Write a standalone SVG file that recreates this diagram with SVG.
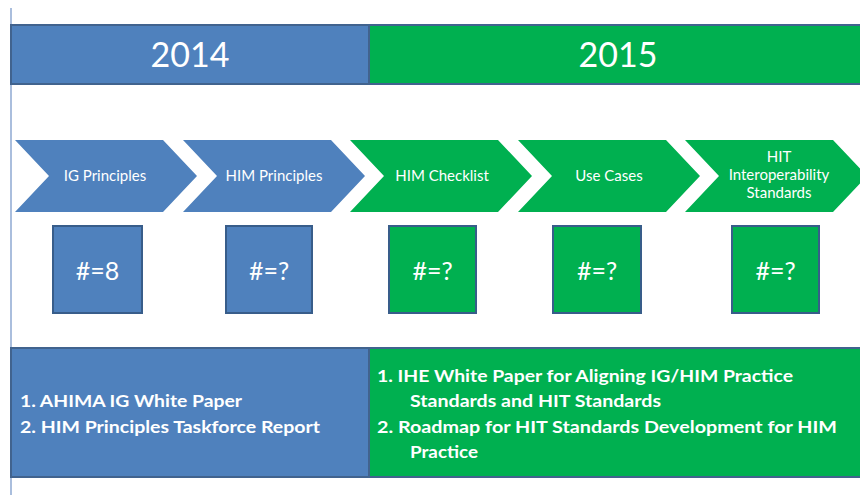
<svg xmlns="http://www.w3.org/2000/svg" width="860" height="495" viewBox="0 0 860 495">
<style>
.blue{fill:#4F81BD}
.green{fill:#00B050}
.bar{stroke:#41638E;stroke-width:2}
.box{stroke:#385D8A;stroke-width:2}
.t{font-family:Lato,"Liberation Sans",sans-serif;fill:#FFFFFF}
.year{font-size:34px;text-anchor:middle}
.chev{font-size:15px;text-anchor:middle}
.num{font-size:25px;text-anchor:middle}
.doc{font-size:17px;font-weight:bold}
</style>
<defs>
<polygon id="chevron" points="0,0 148,0 182,36 148,72 0,72 34,36"/>
</defs>
<rect width="860" height="495" fill="#FFFFFF"/>
<line x1="11" y1="8" x2="11" y2="495" stroke="#8EA9D2" stroke-width="1.5"/>

<g id="year-2014">
<rect class="blue bar" x="11" y="25" width="358" height="59"/>
<text class="t year" x="190" y="67">2014</text>
</g>
<g id="year-2015">
<rect class="green bar" x="369" y="25" width="492" height="59"/>
<text class="t year" x="618" y="67">2015</text>
</g>

<g id="step-ig-principles">
<use href="#chevron" class="blue" x="15" y="140"/>
<text class="t chev" x="105" y="181">IG Principles</text>
</g>
<g id="step-him-principles">
<use href="#chevron" class="blue" x="183" y="140"/>
<text class="t chev" x="274" y="181">HIM Principles</text>
</g>
<g id="step-him-checklist">
<use href="#chevron" class="green" x="350" y="140"/>
<text class="t chev" x="442" y="181">HIM Checklist</text>
</g>
<g id="step-use-cases">
<use href="#chevron" class="green" x="518" y="140"/>
<text class="t chev" x="609" y="181">Use Cases</text>
</g>
<g id="step-hit-standards">
<use href="#chevron" class="green" x="685" y="140"/>
<text class="t chev" x="779" y="162">HIT</text>
<text class="t chev" x="779" y="180">Interoperability</text>
<text class="t chev" x="779" y="198">Standards</text>
</g>

<g id="count-ig">
<rect class="blue box" x="53" y="226" width="89" height="87"/>
<text class="t num" x="97.5" y="280">#=8</text>
</g>
<g id="count-him">
<rect class="blue box" x="226" y="226" width="86" height="87"/>
<text class="t num" x="269" y="280">#=?</text>
</g>
<g id="count-checklist">
<rect class="green box" x="389" y="226" width="87" height="87"/>
<text class="t num" x="432.5" y="280">#=?</text>
</g>
<g id="count-usecases">
<rect class="green box" x="553" y="226" width="88" height="87"/>
<text class="t num" x="597" y="280">#=?</text>
</g>
<g id="count-hit">
<rect class="green box" x="732" y="226" width="87" height="87"/>
<text class="t num" x="775.5" y="280">#=?</text>
</g>

<g id="deliverables-2014">
<rect class="blue bar" x="11" y="348" width="358" height="129"/>
<text class="t doc" x="20" y="407" textLength="222" lengthAdjust="spacingAndGlyphs">1. AHIMA IG White Paper</text>
<text class="t doc" x="20" y="433" textLength="300" lengthAdjust="spacingAndGlyphs">2. HIM Principles Taskforce  Report</text>
</g>
<g id="deliverables-2015">
<rect class="green bar" x="369" y="348" width="492" height="129"/>
<text class="t doc" x="377" y="382" textLength="416" lengthAdjust="spacingAndGlyphs">1. IHE White Paper for Aligning IG/HIM Practice</text>
<text class="t doc" x="410" y="407" textLength="251" lengthAdjust="spacingAndGlyphs">Standards  and HIT Standards</text>
<text class="t doc" x="377" y="433" textLength="460" lengthAdjust="spacingAndGlyphs">2. Roadmap  for HIT Standards  Development for HIM</text>
<text class="t doc" x="410" y="458" textLength="68" lengthAdjust="spacingAndGlyphs">Practice</text>
</g>
</svg>
